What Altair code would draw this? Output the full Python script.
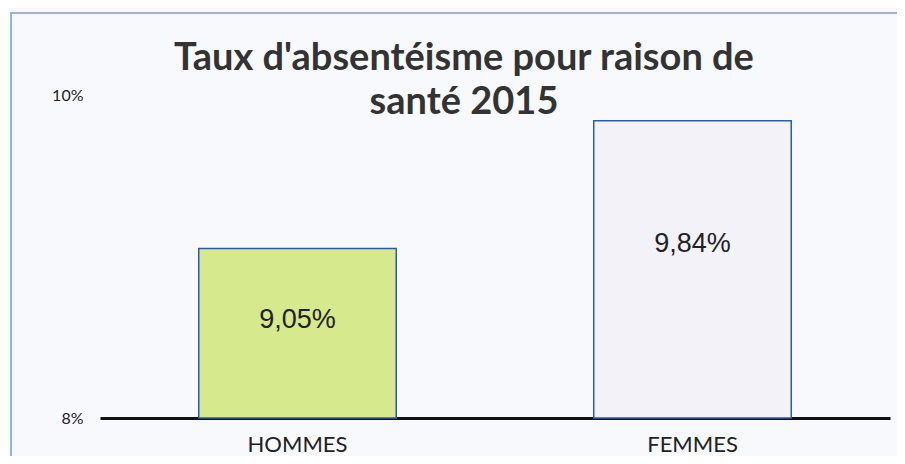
import altair as alt
import pandas as pd

# ---- data ----
categories = ["HOMMES", "FEMMES"]
values = [9.05, 9.84]
value_labels = ["9,05%", "9,84%"]
y_ticks = [8, 10]
title_lines = ["Taux d'absentéisme pour raison de", "santé 2015"]

# ---- styles ----
bar_fills = ["#d6e98c", "#f3f2f8"]
bar_stroke = "#2a5bb0"

W, H = 790, 323
Y_MIN, Y_MAX = 8, 10
LABEL_FRACTION = 0.6  # where inside the bar the value label sits

df = pd.DataFrame({
    "cat": categories,
    "val": values,
    "label": value_labels,
    "fill": bar_fills,
})
df["base"] = Y_MIN
df["lab_pos"] = df["base"] + LABEL_FRACTION * (df["val"] - df["base"])

x_enc = alt.X(
    "cat:N",
    sort=categories,
    scale=alt.Scale(paddingInner=0.5, paddingOuter=0.25),
    axis=alt.Axis(
        title=None, labelAngle=0, labelFont="Lato", labelFontSize=22,
        labelColor="#222222", labelPadding=16, ticks=False,
        domainColor="#111111", domainWidth=3,
    ),
)
y_scale = alt.Scale(domain=[Y_MIN, Y_MAX], nice=False, zero=False)
y_axis = alt.Axis(
    title=None, values=y_ticks, labelExpr="datum.value + '%'",
    labelFont="Lato", labelFontSize=16, labelColor="#222222",
    labelPadding=17, ticks=False, domain=False, grid=False,
)

base = alt.Chart(df)

bars = base.mark_bar(stroke=bar_stroke, strokeWidth=1.5).encode(
    x=x_enc,
    y=alt.Y("val:Q", scale=y_scale, axis=y_axis),
    y2="base:Q",
    fill=alt.Fill("fill:N", scale=None),
)

texts = base.mark_text(font="Liberation Sans", fontSize=27, color="#222222", dy=4).encode(
    x=alt.X("cat:N", sort=categories),
    y=alt.Y("lab_pos:Q", scale=y_scale),
    text="label:N",
)

# decorative chart-area border (open on the right and bottom, like the scan)
frame = base.mark_rect(fillOpacity=0, stroke="#9fb2d6", strokeWidth=2).encode(
    x=alt.value(-89), x2=alt.value(W + 100),
    y=alt.value(-82), y2=alt.value(H + 100),
)

chart = alt.layer(frame, bars, texts).properties(
    width=W,
    height=H,
    autosize=alt.AutoSizeParams(type="none"),
    padding={"left": 92, "top": 87, "right": 7, "bottom": 38},
    background="#f8f9fc",
    title=alt.TitleParams(
        text=title_lines, font="Lato", fontSize=38, fontWeight="bold",
        color="#333333", anchor="middle", dx=-31, lineHeight=44, offset=-110,
    ),
).configure_view(stroke=None)

chart.save("out.html", embed_options={"renderer": "svg", "actions": False})
